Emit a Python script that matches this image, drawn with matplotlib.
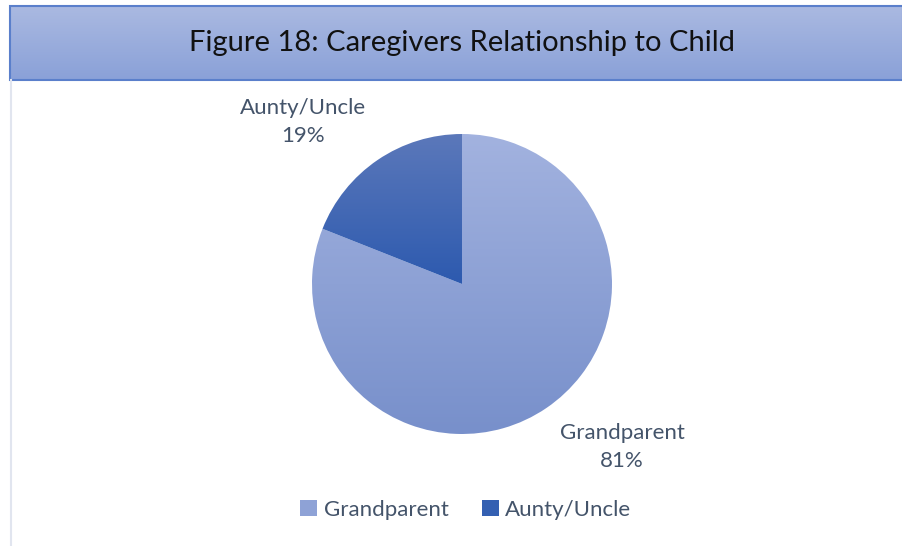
import numpy as np
import matplotlib
matplotlib.use("Agg")
import matplotlib.pyplot as plt
from matplotlib.colors import LinearSegmentedColormap
from matplotlib.patches import Rectangle

# caregiver relationship shares (percent)
categories = ["Grandparent", "Aunty/Uncle"]
shares = [81, 19]
title = "Figure 18: Caregivers Relationship to Child"

# top/bottom gradient colours per slice
slice_top = ["#A2B2DF", "#5B78BA"]
slice_bottom = ["#7890CB", "#2D5AAF"]
legend_colors = ["#8EA2D6", "#3460B2"]
text_color = "#44546A"

plt.rcParams["font.family"] = ["Lato", "DejaVu Sans"]

W, H = 903, 546
fig = plt.figure(figsize=(W / 100, H / 100), dpi=100)
fig.patch.set_facecolor("white")

# title band with a vertical gradient
band = fig.add_axes([10 / W, 1 - 80 / H, (W - 10) / W, 74 / H])
band.set_axis_off()
grad = np.linspace(0, 1, 64).reshape(-1, 1)
band_cmap = LinearSegmentedColormap.from_list("band", ["#AAB9E1", "#8AA1D8"])
band.imshow(grad, aspect="auto", cmap=band_cmap, extent=(0, 1, 0, 1), origin="upper")
band.add_patch(Rectangle((0, 0), 1, 1, fill=False, edgecolor="#5A7FCB", lw=1.5,
                         transform=band.transAxes, clip_on=False))
band.set_xlim(0, 1)
band.set_ylim(0, 1)
band.text((462 - 10) / (W - 10), 0.5, title, ha="center", va="center",
          fontsize=21, color="#111111")

# thin frame line along the left edge
fig.add_artist(plt.Line2D([11.5 / W, 11.5 / W], [0, 1 - 80 / H], color="#E1E5EF", lw=1.5))

# pie axes: centre at (462, 284) px, radius 150 px
R = 150
half = 250
ax = fig.add_axes([(462 - half) / W, 1 - (284 + half) / H, 2 * half / W, 2 * half / H])
ax.set_axis_off()
lim = half / R

wedges, _ = ax.pie(shares, startangle=90, counterclock=False, radius=1,
                   colors=legend_colors, wedgeprops=dict(linewidth=0))

for w, top, bot in zip(wedges, slice_top, slice_bottom):
    w.set_facecolor("none")
    ys = [p[1] for p in w.get_path().vertices]
    y0, y1 = max(-1, min(ys)), min(1, max(ys))
    cmap = LinearSegmentedColormap.from_list("s", [top, bot])
    im = ax.imshow(grad, cmap=cmap, extent=(-1, 1, y0, y1), origin="upper",
                   aspect="auto", zorder=1, interpolation="bilinear")
    im.set_clip_path(w)

ax.set_xlim(-lim, lim)
ax.set_ylim(-lim, lim)
ax.set_aspect("equal")

# outside-end labels
label_pos = {"Grandparent": (622, 447), "Aunty/Uncle": (303, 122)}
for name, val in zip(categories, shares):
    px, py = label_pos[name]
    ax.text((px - 462) / R, (284 - py) / R, f"{name}\n{val}%", ha="center", va="center",
            fontsize=16, color=text_color, linespacing=1.45)

# legend
handles = [Rectangle((0, 0), 1, 1, facecolor=c, edgecolor="none") for c in legend_colors]
fig.legend(handles, categories, loc="center", bbox_to_anchor=(466 / W, 1 - 510 / H),
           ncol=2, frameon=False, fontsize=16, labelcolor=text_color,
           handlelength=0.75, handleheight=0.75, handletextpad=0.3, columnspacing=1.5)

fig.savefig("out.png", dpi=100)
